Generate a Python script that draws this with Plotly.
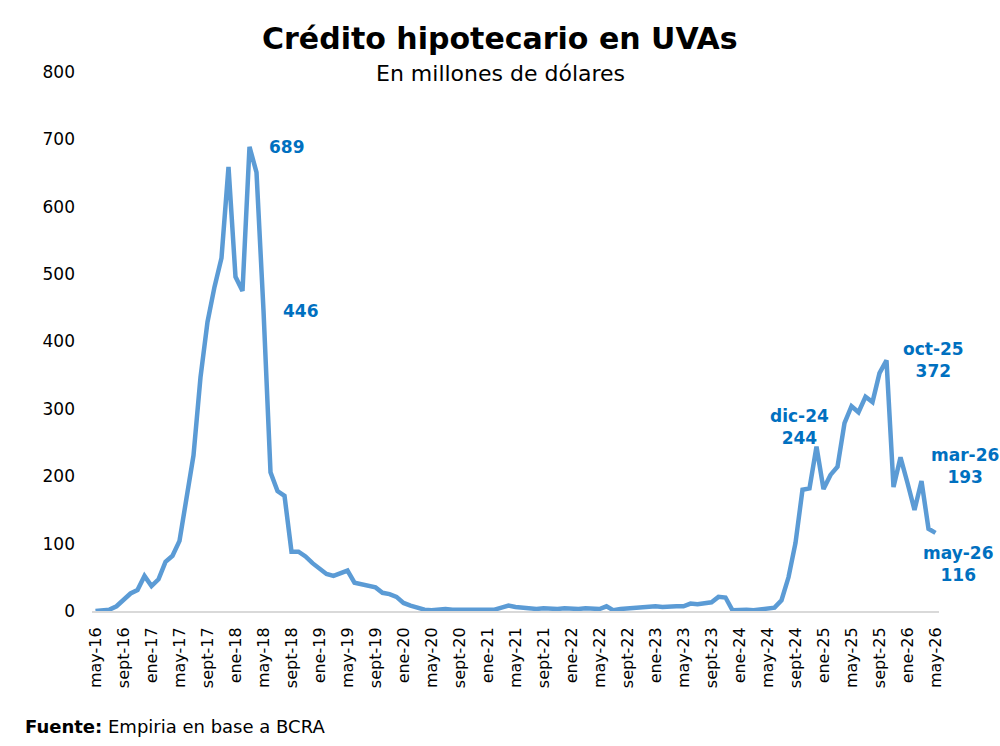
import plotly.graph_objects as go

# Monthly values, may-16 .. may-26 (121 months), millions of USD
values = [
    0, 1, 2, 7, 17, 26, 31, 52,            # may-16 .. dic-16
    37, 47, 73, 82, 104, 165, 231, 347, 429, 481, 524, 659,   # 2017
    496, 475, 689, 651, 446, 206, 178, 171, 88, 88, 81, 71,   # 2018
    62, 55, 52, 56, 60, 42, 40, 38, 35, 27, 25, 21,          # 2019
    12, 8, 5, 2, 1, 2, 3, 2, 2, 3, 2, 3,                     # 2020
    2, 2, 5, 8, 6, 5, 4, 3, 4, 3, 3, 4,                      # 2021
    3, 3, 4, 3, 3, 7, 1, 3, 4, 5, 5, 6,                      # 2022
    7, 6, 7, 7, 7, 11, 10, 12, 13, 21, 20, 1,                # 2023
    2, 2, 1, 2, 3, 5, 16, 50, 101, 180, 182, 244,            # 2024
    181, 202, 214, 279, 304, 295, 318, 310, 353, 372, 184, 228,  # 2025
    190, 150, 193, 122, 116,                                 # ene-26 .. may-26
]

tick_labels = [
    "may-16", "sept-16", "ene-17", "may-17", "sept-17", "ene-18", "may-18",
    "sept-18", "ene-19", "may-19", "sept-19", "ene-20", "may-20", "sept-20",
    "ene-21", "may-21", "sept-21", "ene-22", "may-22", "sept-22", "ene-23",
    "may-23", "sept-23", "ene-24", "may-24", "sept-24", "ene-25", "may-25",
    "sept-25", "ene-26", "may-26",
]
tick_step = 4

# Highlighted points: (index, label text)
highlights = [
    (22, "689"),
    (24, "446"),
    (103, "dic-24<br>244"),
    (113, "oct-25<br>372"),
    (118, "mar-26<br>193"),
    (120, "may-26<br>116"),
]

title = "Crédito hipotecario en UVAs"
subtitle = "En millones de dólares"
source_bold = "Fuente:"
source_text = " Empiria en base a BCRA"

x_idx = list(range(len(values)))
tick_vals = [i * tick_step for i in range(len(tick_labels))]

FONT = "DejaVu Sans"
LABEL_COLOR = "#0070C0"
W, H = 1000, 746
ML, MR, MT, MB = 92, 61, 72, 135
PW = W - ML - MR
PH = H - MT - MB


def px_to_paper(px, py):
    return (px - ML) / PW, (H - MB - py) / PH


fig = go.Figure()
fig.add_trace(go.Scatter(
    x=x_idx, y=values, mode="lines",
    line=dict(color="#5B9BD5", width=4.5),
    hoverinfo="y",
))

# annotation offsets (xshift, yshift, xanchor, yanchor)
offsets = {
    22: (17, 0, "left", "middle"),
    24: (17, 0, "left", "middle"),
    103: (-17, -3, "center", "bottom"),
    113: (47, 0, "center", "middle"),
    118: (43, 15, "center", "middle"),
    120: (22, -31, "center", "middle"),
}
for idx, txt in highlights:
    xs, ys, xa, ya = offsets[idx]
    fig.add_annotation(
        x=idx, y=values[idx], xref="x", yref="y", text="<b>" + txt + "</b>",
        showarrow=False, xshift=xs, yshift=ys, xanchor=xa, yanchor=ya,
        font=dict(family=FONT, size=17, color=LABEL_COLOR), align="center",
    )

tx, ty = px_to_paper(500, 38)
fig.add_annotation(
    x=tx, y=ty, xref="paper", yref="paper", text="<b>" + title + "</b>",
    showarrow=False, font=dict(family=FONT, size=30, color="black"),
    xanchor="center", yanchor="middle",
)
sx, sy = px_to_paper(500, 73)
fig.add_annotation(
    x=sx, y=sy, xref="paper", yref="paper", text=subtitle,
    showarrow=False, font=dict(family=FONT, size=22, color="black"),
    xanchor="center", yanchor="middle",
)
fx, fy = px_to_paper(23, 726)
fig.add_annotation(
    x=fx, y=fy, xref="paper", yref="paper",
    text="<b>" + source_bold + "</b>" + source_text,
    showarrow=False, font=dict(family=FONT, size=18, color="black"),
    xanchor="left", yanchor="middle",
)

fig.update_layout(
    width=W, height=H,
    margin=dict(l=ML, r=MR, t=MT, b=MB),
    paper_bgcolor="white", plot_bgcolor="white",
    showlegend=False,
    font=dict(family=FONT, color="black"),
)

fig.update_xaxes(
    range=[-0.5, len(values) - 0.5],
    tickmode="array", tickvals=tick_vals, ticktext=tick_labels,
    tickangle=-90, tickfont=dict(family=FONT, size=16, color="black"),
    showgrid=False, zeroline=False,
    showline=True, linecolor="#D9D9D9", linewidth=2,
    ticks="", ticklabelstandoff=8,
)
fig.update_yaxes(
    range=[0, 800], tickmode="array", tickvals=list(range(0, 801, 100)),
    tickfont=dict(family=FONT, size=17, color="black"),
    showgrid=False, zeroline=False, showline=False, ticks="",
    ticklabelstandoff=16,
)

fig.write_html("out.html")
